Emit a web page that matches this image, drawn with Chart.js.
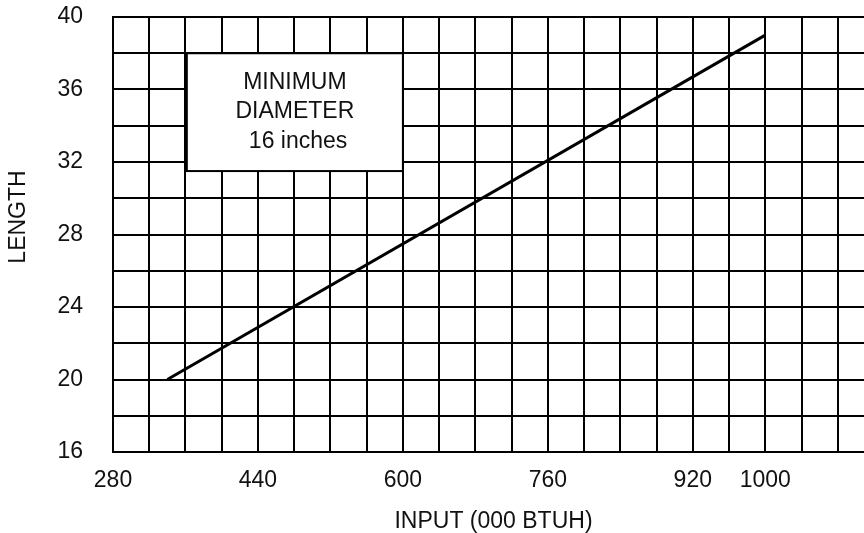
<!DOCTYPE html>
<html>
<head>
<meta charset="utf-8">
<script src="https://cdn.jsdelivr.net/npm/chart.js@4/dist/chart.umd.min.js"></script>
<style>
  html, body { margin: 0; padding: 0; overflow: hidden; background: #fff; }
  #wrap { width: 900px; height: 533px; position: relative; }
</style>
</head>
<body>
<div id="wrap"><canvas id="c"></canvas></div>
<script>
// ---- data ----
const inputValues = [340, 1000];          // INPUT (000 BTUH)
const lengthValues = [20, 39];            // LENGTH
const xTickLabels = [280, 440, 600, 760, 920, 1000];
const yTickLabels = [16, 20, 24, 28, 32, 36, 40];
const noteLines = ['MINIMUM', 'DIAMETER', ' 16 inches'];
const noteBox = { x1: 361.5, x2: 600, y1: 38, y2: 31.5 };
const xRange = [280, 1120];
const yRange = [16, 40];

const FONT = 'Liberation Sans, Arial, Helvetica, sans-serif';

const notePlugin = {
  id: 'note',
  afterDatasetsDraw(chart) {
    const ctx = chart.ctx;
    const xs = chart.scales.x, ys = chart.scales.y;
    const l = xs.getPixelForValue(noteBox.x1), r = xs.getPixelForValue(noteBox.x2);
    const t = ys.getPixelForValue(noteBox.y1), b = ys.getPixelForValue(noteBox.y2);
    ctx.save();
    ctx.fillStyle = '#fff';
    ctx.fillRect(l, t, r - l, b - t);
    ctx.strokeStyle = '#000';
    ctx.lineWidth = 2;
    ctx.strokeRect(l, t, r - l, b - t);
    ctx.fillStyle = '#111';
    ctx.font = '23px ' + FONT;
    ctx.textAlign = 'center';
    ctx.textBaseline = 'alphabetic';
    const cx = (l + r) / 2;
    noteLines.forEach((s, i) => ctx.fillText(s, cx, t + 35.5 + i * 29.5));
    ctx.restore();
  },
  afterDraw(chart) {
    const ctx = chart.ctx;
    ctx.save();
    ctx.translate(19, 217);
    ctx.rotate(-Math.PI / 2);
    ctx.fillStyle = '#111';
    ctx.font = '23px ' + FONT;
    ctx.textAlign = 'center';
    ctx.textBaseline = 'middle';
    ctx.fillText('LENGTH', 0, 0);
    ctx.restore();
  }
};

new Chart(document.getElementById('c'), {
  type: 'line',
  data: {
    datasets: [{
      data: inputValues.map((x, i) => ({ x: x, y: lengthValues[i] })),
      borderColor: '#000',
      borderWidth: 3,
      pointRadius: 0,
      fill: false,
      tension: 0
    }]
  },
  options: {
    responsive: true,
    maintainAspectRatio: false,
    animation: false,
    layout: { padding: { left: 0, right: 26, top: 17, bottom: 0 } },
    plugins: { legend: { display: false }, tooltip: { enabled: false } },
    scales: {
      x: {
        type: 'linear',
        min: xRange[0], max: xRange[1],
        afterFit(s) { s.height = 81; s.paddingLeft = 0; s.paddingRight = 0; },
        ticks: {
          stepSize: 40,
          autoSkip: false,
          maxRotation: 0,
          padding: 15,
          color: '#111',
          font: { family: FONT, size: 23 },
          callback: v => xTickLabels.includes(v) ? String(v) : ''
        },
        grid: { color: '#000', lineWidth: 2, drawTicks: false },
        border: { color: '#000', width: 2 },
        title: {
          display: true,
          text: 'INPUT (000 BTUH)',
          color: '#111',
          font: { family: FONT, size: 23 },
          padding: { top: 0, bottom: -2 }
        }
      },
      y: {
        type: 'linear',
        min: yRange[0], max: yRange[1],
        afterFit(s) { s.width = 113; s.paddingTop = 0; s.paddingBottom = 0; },
        ticks: {
          stepSize: 2,
          autoSkip: false,
          padding: 30,
          color: '#111',
          font: { family: FONT, size: 23 },
          callback: v => yTickLabels.includes(v) ? String(v) : ''
        },
        grid: { color: '#000', lineWidth: 2, drawTicks: false },
        border: { color: '#000', width: 2 }
      }
    }
  },
  plugins: [notePlugin]
});
</script>
</body>
</html>
